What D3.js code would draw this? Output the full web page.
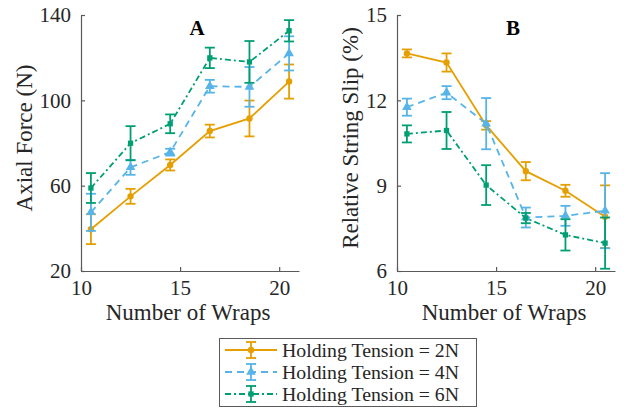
<!DOCTYPE html>
<html>
<head>
<meta charset="utf-8">
<script src="https://cdn.jsdelivr.net/npm/d3@7"></script>
<style>
	body { margin: 0; background: #fff; }
	.axis path, .axis line { stroke: #5a5a5a; stroke-width: 1.2; }
</style>
</head>
<body>
<script>
/* Data. */
const wraps = [10.5, 12.5, 14.5, 16.5, 18.5, 20.5];
const seriesNames = ['Holding Tension = 2N', 'Holding Tension = 4N', 'Holding Tension = 6N'];

const forceMean2N = [39.6, 55.0, 69.7, 85.6, 91.5, 108.8];
const forceErr2N = [7.0, 3.5, 2.6, 3.0, 8.4, 8.0];
const forceMean4N = [47.5, 68.6, 75.7, 106.6, 106.3, 122.0];
const forceErr4N = [8.7, 3.5, 1.6, 3.0, 9.3, 8.0];
const forceMean6N = [58.9, 79.9, 89.0, 119.9, 118.0, 132.6];
const forceErr6N = [7.0, 8.0, 4.4, 4.8, 9.8, 5.0];

const slipMean2N = [13.65, 13.33, 11.12, 9.51, 8.82, 7.91];
const slipErr2N = [0.14, 0.32, 0.15, 0.32, 0.21, 1.1];
const slipMean4N = [11.76, 12.27, 11.18, 7.88, 7.94, 8.12];
const slipErr4N = [0.3, 0.23, 0.9, 0.35, 0.35, 1.32];
const slipMean6N = [10.82, 10.94, 9.02, 7.86, 7.27, 6.98];
const slipErr6N = [0.3, 0.65, 0.7, 0.18, 0.55, 0.9];

const xTicks = [10, 15, 20];
const forceTicks = [20, 60, 100, 140];
const slipTicks = [6, 9, 12, 15];

/* Styles. */
const FONT = "'Liberation Serif', 'Times New Roman', serif";
const colors = ['#E69F00', '#56B4E9', '#009E73'];
const dashes = [null, '7,5', '6,3,2,3'];
const markers = [d3.symbolCircle, d3.symbolTriangle, d3.symbolSquare];
const markerSizes = [32, 40, 28];

const svg = d3.select('body').append('svg')
	.attr('width', 629)
	.attr('height', 412);

/**
 * Sets the serif font on a text selection.
 */
function serif(selection, size) {
	return selection
		.style('font-family', FONT)
		.style('font-size', size + 'px')
		.style('fill', '#262626');
}

/**
 * Draws one panel.
 */
function createPanel(left, yDomain, yTicks, means, errs, title, yLabel, labelOffset) {
	const xScale = d3.scaleLinear().domain([10, 21]).range([left, left + 218]);
	const yScale = d3.scaleLinear().domain(yDomain).range([271, 15]);
	const g = svg.append('g');

	let xAxis = g.append('g')
		.attr('class', 'axis')
		.attr('transform', 'translate(0,271)')
		.call(d3.axisBottom(xScale).tickValues(xTicks).tickSizeInner(-4).tickSizeOuter(0).tickPadding(9));
	xAxis.selectAll('text').attr('dy', '0.71em').call(serif, 21);
	let yAxis = g.append('g')
		.attr('class', 'axis')
		.attr('transform', 'translate(' + left + ',0)')
		.call(d3.axisLeft(yScale).tickValues(yTicks).tickSizeInner(-4).tickSizeOuter(0).tickPadding(10));
	yAxis.selectAll('text').call(serif, 21);

	means.forEach(function(values, s) {
		let points = wraps.map(function(w, i) { return { x: w, y: values[i], e: errs[s][i] }; });
		let series = g.append('g');

		series.append('path')
			.datum(points)
			.attr('fill', 'none')
			.attr('stroke', colors[s])
			.attr('stroke-width', 1.8)
			.attr('stroke-dasharray', dashes[s])
			.attr('d', d3.line().x(function(p) { return xScale(p.x); }).y(function(p) { return yScale(p.y); }));

		let bars = series.selectAll('.bar')
				.data(points)
			.enter().append('g')
				.attr('stroke', colors[s])
				.attr('stroke-width', 1.8);
		bars.append('line')
			.attr('x1', function(p) { return xScale(p.x); })
			.attr('x2', function(p) { return xScale(p.x); })
			.attr('y1', function(p) { return yScale(p.y - p.e); })
			.attr('y2', function(p) { return yScale(p.y + p.e); });
		[-1, 1].forEach(function(sign) {
			bars.append('line')
				.attr('x1', function(p) { return xScale(p.x) - 5; })
				.attr('x2', function(p) { return xScale(p.x) + 5; })
				.attr('y1', function(p) { return yScale(p.y + sign * p.e); })
				.attr('y2', function(p) { return yScale(p.y + sign * p.e); });
		});

		series.selectAll('.marker')
				.data(points)
			.enter().append('path')
				.attr('transform', function(p) { return 'translate(' + xScale(p.x) + ',' + yScale(p.y) + ')'; })
				.attr('d', d3.symbol().type(markers[s]).size(markerSizes[s]))
				.attr('fill', colors[s]);
	});

	g.append('text')
		.attr('x', left + 116)
		.attr('y', 35)
		.attr('text-anchor', 'middle')
		.call(serif, 21)
		.style('font-weight', 'bold')
		.style('fill', '#000')
		.text(title);

	g.append('text')
		.attr('x', left + 107)
		.attr('y', 320)
		.attr('text-anchor', 'middle')
		.call(serif, 23)
		.text('Number of Wraps');

	g.append('text')
		.attr('transform', 'translate(' + (left - labelOffset) + ',138) rotate(-90)')
		.attr('text-anchor', 'middle')
		.call(serif, 23)
		.text(yLabel);
}

/**
 * Draws the legend.
 */
function createLegend() {
	const legend = svg.append('g');
	legend.append('rect')
		.attr('x', 219.5)
		.attr('y', 338.5)
		.attr('width', 257)
		.attr('height', 68)
		.attr('fill', '#fff')
		.attr('stroke', '#5a5a5a')
		.attr('stroke-width', 1);

	seriesNames.forEach(function(name, s) {
		let y = 350 + s * 22;
		let row = legend.append('g');
		row.append('line')
			.attr('x1', 225).attr('x2', 277)
			.attr('y1', y).attr('y2', y)
			.attr('stroke', colors[s])
			.attr('stroke-width', 1.8)
			.attr('stroke-dasharray', dashes[s]);
		row.append('line')
			.attr('x1', 251).attr('x2', 251)
			.attr('y1', y - 8).attr('y2', y + 8)
			.attr('stroke', colors[s]).attr('stroke-width', 1.8);
		[-8, 8].forEach(function(dy) {
			row.append('line')
				.attr('x1', 246).attr('x2', 256)
				.attr('y1', y + dy).attr('y2', y + dy)
				.attr('stroke', colors[s]).attr('stroke-width', 1.8);
		});
		row.append('path')
			.attr('transform', 'translate(251,' + y + ')')
			.attr('d', d3.symbol().type(markers[s]).size(markerSizes[s]))
			.attr('fill', colors[s]);
		row.append('text')
			.attr('x', 282)
			.attr('y', y + 7)
			.call(serif, 19.8)
			.text(name);
	});
}

createPanel(81, [20, 140], forceTicks,
	[forceMean2N, forceMean4N, forceMean6N], [forceErr2N, forceErr4N, forceErr6N],
	'A', 'Axial Force (N)', 49);
createPanel(397, [6, 15], slipTicks,
	[slipMean2N, slipMean4N, slipMean6N], [slipErr2N, slipErr4N, slipErr6N],
	'B', 'Relative String Slip (%)', 39);
createLegend();
</script>
</body>
</html>
